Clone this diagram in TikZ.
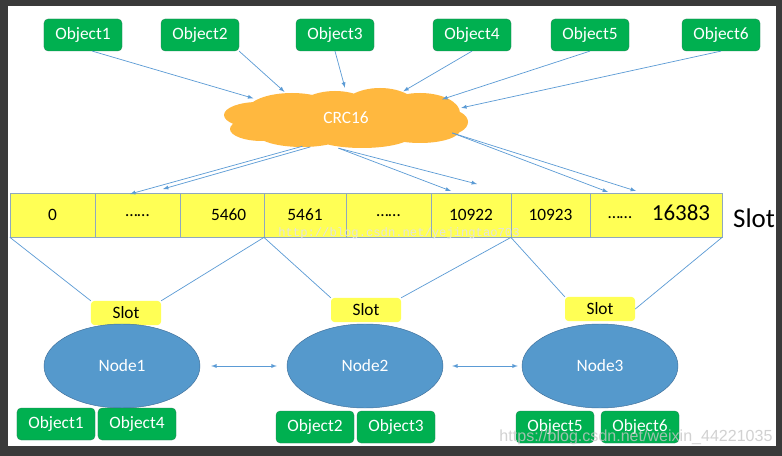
\documentclass[tikz,border=0pt]{standalone}
\usepackage{fontspec}
\setmainfont{Carlito}
\newfontfamily\wmsans{Liberation Sans}
\newfontfamily\wmmono{Liberation Mono}
\usepackage{tikz}
\usetikzlibrary{arrows,shapes.geometric}

\definecolor{objgreen}{HTML}{00B050}
\definecolor{objedge}{HTML}{2F7D5A}
\definecolor{crcorange}{HTML}{FFB83F}
\definecolor{nodeblue}{HTML}{5599CC}
\definecolor{nodeedge}{HTML}{41719C}
\definecolor{slotyellow}{HTML}{FFFF55}
\definecolor{linkblue}{HTML}{5B9BD5}
\definecolor{cellline}{HTML}{8FA8BF}
\definecolor{framegray}{HTML}{3A3A3A}

\tikzset{
  base/.style={font=\fontsize{14.8}{17}\selectfont},
  obj/.style={base, rectangle, rounded corners=0.12cm, fill=objgreen, draw=objedge,
    very thin, text=white, minimum width=2.34cm, minimum height=0.96cm, inner sep=0pt},
  server/.style={base, ellipse, fill=nodeblue, draw=nodeedge, text=white,
    minimum width=4.68cm, minimum height=2.52cm},
  slotbox/.style={base, rectangle, rounded corners=0.1cm, fill=slotyellow,
    minimum width=2.1cm, minimum height=0.72cm, inner sep=0pt},
  cell/.style={base, rectangle, fill=slotyellow, draw=cellline, thin,
    minimum height=1.32cm, inner sep=0pt},
  link/.style={linkblue, line width=0.6pt},
  hash/.style={link, -latex},
}

\begin{document}
\begin{tikzpicture}[x=0.03cm, y=-0.03cm]
  \useasboundingbox (0,0) rectangle (782,456);
  \fill[framegray] (0,0) rectangle (782,456);
  \fill[white] (8,6) rectangle (776,446);

  % objects on top
  \node[obj] (o1) at (83,35)  {Object1};
  \node[obj] (o2) at (200,35) {Object2};
  \node[obj] (o3) at (335,35) {Object3};
  \node[obj] (o4) at (472,35) {Object4};
  \node[obj] (o5) at (590,35) {Object5};
  \node[obj] (o6) at (721,35) {Object6};

  % the hash cloud
  \fill[crcorange]
    (258,115) ellipse [x radius=34, y radius=13]
    (262,129) ellipse [x radius=32, y radius=12]
    (292,111) ellipse [x radius=45, y radius=18]
    (335,113) ellipse [x radius=40, y radius=22]
    (380,111) ellipse [x radius=40, y radius=23]
    (420,113) ellipse [x radius=40, y radius=20]
    (446,122) ellipse [x radius=22, y radius=13]
    (302,133) ellipse [x radius=46, y radius=14]
    (362,135) ellipse [x radius=50, y radius=13]
    (420,130) ellipse [x radius=40, y radius=13];
  \node[ellipse, base, text=white, inner sep=0pt,
    minimum width=7.32cm, minimum height=1.8cm] (crc) at (346,118) {CRC16};

  \path[hash]
  (o1.-60) edge (crc.168)
  (o2.south east) edge (crc.157)
  (o3.south) edge (crc.92)
  (o4.south) edge (crc.25)
  (o5.south) edge (crc.11)
  (o6.south) edge (crc.5)
  ;

  % slot bar
  \foreach \l/\r/\t [count=\i] in {10/95/0, 95/180/……, 180/264/\hspace{0.4cm}5460,
      264/346/5461, 346/431/……, 431/511/10922, 511/590/10923, 590/722/} {
    \pgfmathsetmacro\cx{(\l+\r)/2}
    \pgfmathsetmacro\cw{(\r-\l)*0.03}
    \node[cell, minimum width=\cw cm] (c\i) at (\cx,215) {\raisebox{-2pt}{\t}};
  }
  \node[base] (dots) at (620,218) {……};
  \node[font=\fontsize{19.6}{22}\selectfont] (top) at (681,213) {16383};
  \node[font=\fontsize{23}{26}\selectfont, anchor=west] (slotname) at (729,218) {Slot};

  \coordinate (h1) at (130,194);
  \coordinate (h2) at (163,189);
  \coordinate (h3) at (451,191);
  \coordinate (h4) at (477,184);
  \coordinate (h5) at (608,192);
  \coordinate (h6) at (636,191);

  \path[hash]
  (crc.213) edge (h1)
  (crc.219) edge (h2)
  (crc.256) edge (h3)
  (crc.256) edge (h4)
  (crc.352) edge (h5)
  (crc.352) edge (h6)
  ;

  \node[font=\wmmono\fontsize{10.4}{12}\selectfont, text=gray!22] (wm1) at (399,233)
    {http://blog.csdn.net/yejingtao703};

  % slots and nodes
  \node[slotbox] (s1) at (126,313) {Slot};
  \node[slotbox] (s2) at (366,310) {Slot};
  \node[slotbox] (s3) at (600,309) {Slot};

  \draw[link] (c1.south west) -- (s1.north west);
  \draw[link] (c3.south east) -- (s1.north east);
  \draw[link] (c4.south west) -- (s2.north west);
  \draw[link] (c6.south east) -- (s2.north east);
  \draw[link] (c7.south west) -- (s3.north west);
  \draw[link] (c8.south east) -- (s3.east);

  \node[server] (n1) at (122,366) {Node1};
  \node[server] (n2) at (365,366) {Node2};
  \node[server] (n3) at (600,366) {Node3};

  \draw[link, latex-latex, shorten <=0.33cm, shorten >=0.3cm] (n1) -- (n2);
  \draw[link, latex-latex, shorten <=0.27cm, shorten >=0.12cm] (n2) -- (n3);

  % objects stored on each node
  \node[obj] (b1) at (56,424)  {Object1};
  \node[obj] (b4) at (137,424) {Object4};
  \node[obj] (b2) at (315,427) {Object2};
  \node[obj] (b3) at (396,427) {Object3};
  \node[obj] (b5) at (555,427) {Object5};
  \node[obj] (b6) at (640,427) {Object6};

  \node[font=\wmsans\fontsize{13.7}{16}\selectfont, text=gray!45, opacity=0.8] (wm2)
    at (636,437) {https://blog.csdn.net/weixin\_44221035};
\end{tikzpicture}
\end{document}
